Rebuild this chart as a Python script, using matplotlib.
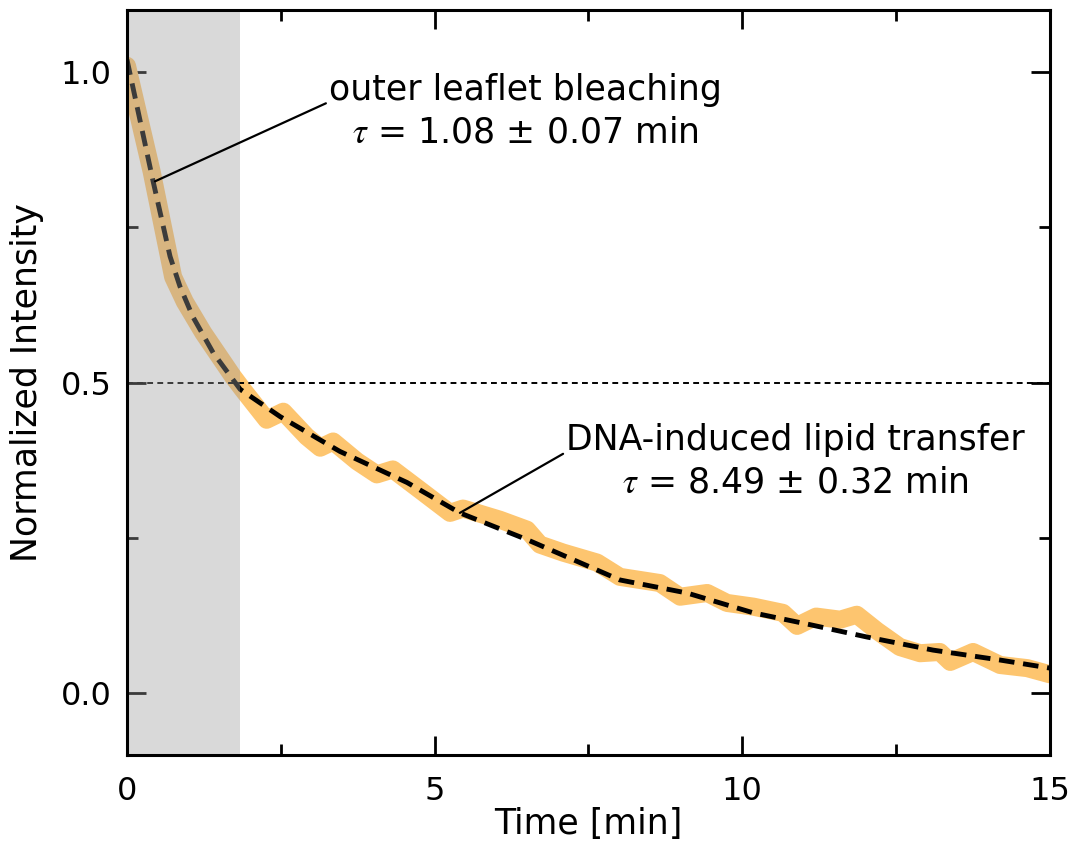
import numpy as np
import matplotlib
matplotlib.use("Agg")
import matplotlib.pyplot as plt
from matplotlib.ticker import MultipleLocator, FormatStrFormatter

plt.rcParams["font.family"] = ["DejaVu Sans"]
plt.rcParams["mathtext.fontset"] = "stix"

time_data = [0.0, 0.40, 0.75, 0.94, 1.24, 1.72, 1.88, 2.27, 2.54, 2.92, 3.14,
             3.35, 3.74, 4.06, 4.32, 4.76, 5.25, 5.46, 6.06, 6.50, 6.71, 7.09,
             7.64, 8.01, 8.66, 8.99, 9.43, 9.75, 10.18, 10.66, 10.89, 11.20,
             11.59, 11.86, 12.19, 12.56, 12.89, 13.21, 13.38, 13.75, 14.19,
             14.63, 15.0]
intensity = [1.01, 0.84, 0.67, 0.63, 0.58, 0.51, 0.489, 0.44, 0.453, 0.413,
             0.395, 0.405, 0.373, 0.352, 0.36, 0.327, 0.29, 0.297, 0.279, 0.263,
             0.239, 0.226, 0.21, 0.187, 0.177, 0.155, 0.161, 0.145, 0.139,
             0.129, 0.108, 0.123, 0.118, 0.126, 0.10, 0.074, 0.064, 0.066,
             0.05, 0.066, 0.045, 0.04, 0.03]

# fitted curve
time_fit = [0.0, 0.42, 0.70, 0.86, 1.07, 1.40, 1.72, 1.84, 2.49, 3.46, 4.55,
            5.41, 6.50, 8.01, 9.10, 10.18, 11.10, 12.03, 13.10, 14.19, 15.0]
intensity_fit = [1.02, 0.826, 0.703, 0.655, 0.606, 0.548, 0.505, 0.489, 0.445,
                 0.389, 0.339, 0.29, 0.247, 0.182, 0.161, 0.129, 0.11, 0.09,
                 0.069, 0.053, 0.04]

bleach_end = 1.84
half_level = 0.5

fig = plt.figure(figsize=(10.78, 8.52), dpi=100)
ax = fig.add_axes([0.1178, 0.1138, 0.8562, 0.8745])

ax.plot(time_data, intensity, color="#fdc56f", lw=13, solid_joinstyle="round",
        solid_capstyle="round", zorder=2)
ax.plot(time_fit, intensity_fit, color="black", lw=3.5, dashes=(3.2, 1.8),
        zorder=3)
ax.axhline(half_level, color="black", lw=1.4, dashes=(3, 2.2), zorder=3)
ax.axvspan(0, bleach_end, color="#9c9c9c", alpha=0.38, lw=0, zorder=5)

# annotations
for label, point, pos in [
        ("outer leaflet bleaching\n$\\tau$ = 1.08 ± 0.07 min",
         (0.455, 0.824), (6.47, 0.937)),
        ("DNA-induced lipid transfer\n$\\tau$ = 8.49 ± 0.32 min",
         (5.41, 0.29), (10.86, 0.373))]:
    ax.annotate(label, xy=point, xytext=pos, ha="center", va="center",
                fontsize=25, linespacing=1.3, zorder=7,
                arrowprops=dict(arrowstyle="-", color="black", lw=1.6,
                                shrinkA=0, shrinkB=0, relpos=(0.0, 0.62)))

ax.set_xlim(0, 15)
ax.set_ylim(-0.1, 1.1)
ax.xaxis.set_major_locator(MultipleLocator(5))
ax.xaxis.set_minor_locator(MultipleLocator(2.5))
ax.yaxis.set_major_locator(MultipleLocator(0.5))
ax.yaxis.set_minor_locator(MultipleLocator(0.25))
ax.yaxis.set_major_formatter(FormatStrFormatter("%.1f"))
ax.xaxis.set_major_formatter(FormatStrFormatter("%d"))

ax.tick_params(which="both", direction="in", top=True, right=True, width=2,
               labelsize=23)
ax.tick_params(which="major", length=14)
ax.tick_params(which="minor", length=8)
ax.tick_params(axis="x", pad=15)
ax.tick_params(axis="y", pad=11)
for sp in ax.spines.values():
    sp.set_linewidth(2.2)
    sp.set_zorder(6)

ax.set_xlabel("Time [min]", fontsize=25, labelpad=0)
ax.set_ylabel("Normalized Intensity", fontsize=25, labelpad=12)

fig.savefig("out.png", dpi=100)
